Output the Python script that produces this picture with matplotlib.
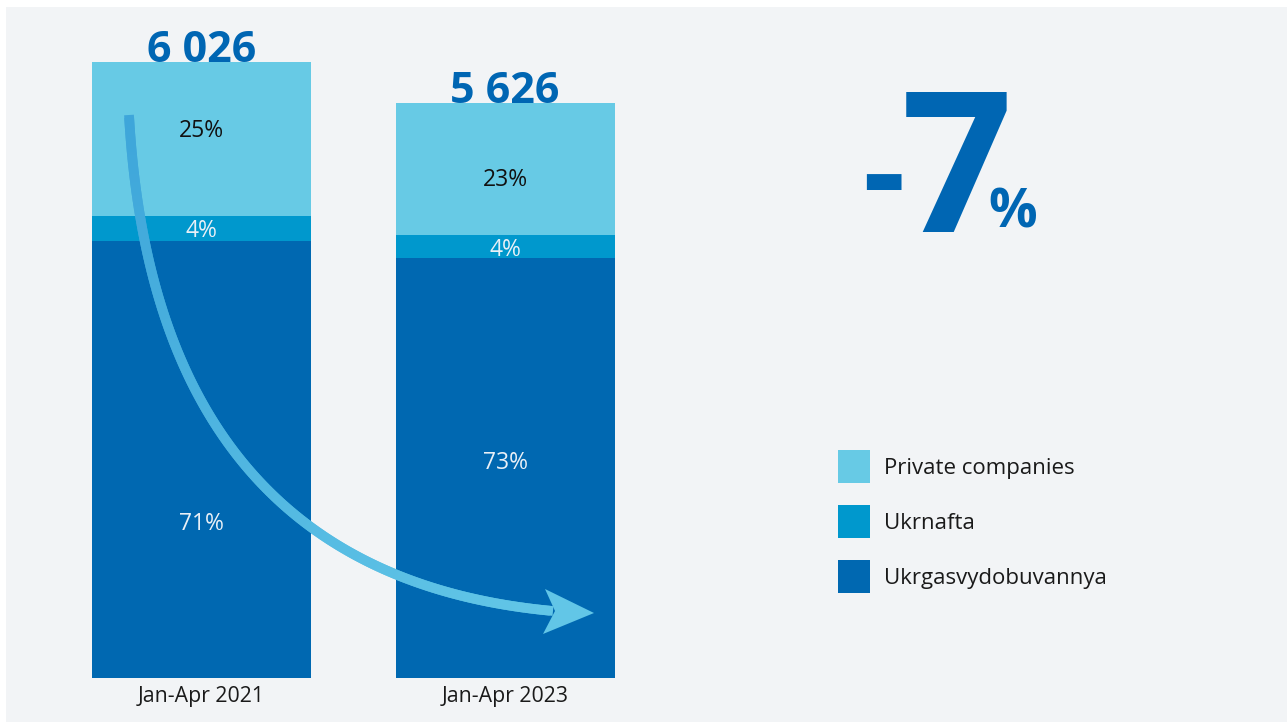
import numpy as np
import matplotlib
matplotlib.use("Agg")
import matplotlib.pyplot as plt
from matplotlib.patches import Rectangle, Patch, Polygon
from matplotlib.collections import LineCollection
import matplotlib.colors as mcolors

plt.rcParams["font.family"] = ["Open Sans", "DejaVu Sans"]

# ---- data: gas production, Jan-Apr, by producer ----
periods = ["Jan-Apr 2021", "Jan-Apr 2023"]
totals = [6026, 5626]
# stacked bottom -> top
companies = ["Ukrgasvydobuvannya", "Ukrnafta", "Private companies"]
share_ugv = [71, 73]
share_ukrnafta = [4, 4]
share_private = [25, 23]
change_pct = -7

shares = [share_ugv, share_ukrnafta, share_private]

# ---- styling ----
colors = ["#0068b1", "#0098cd", "#67cae5"]
label_colors = ["#e9f0f7", "#e9f0f7", "#111111"]
# vertical placement of each share label inside its segment (0 = bottom, 1 = top)
label_frac = [[0.36, 0.52], [0.5, 0.5], [0.57, 0.44]]
NUM_BLUE = "#0066b3"
BG = "#f2f4f6"
TEXT = "#1a1a1a"

W, H = 1287, 722
fig = plt.figure(figsize=(W / 100, H / 100), dpi=100)
fig.patch.set_facecolor("white")
fig.patches.append(Rectangle((6 / W, 0), 1, 1 - 7 / H, transform=fig.transFigure,
                             facecolor=BG, edgecolor="none", zorder=-10))


def fpx(x, y):
    """pixel position (from top-left) -> figure fraction"""
    return x / W, 1 - y / H


bar_bottom_px, bar_top_px = 678, 62
ax = fig.add_axes([0, (H - bar_bottom_px) / H, 1, (bar_bottom_px - 18) / H])
ax.set_facecolor("none")
ax.set_zorder(1)
units_per_px = totals[0] / (bar_bottom_px - bar_top_px)
ax.set_ylim(0, (bar_bottom_px - 18) * units_per_px)
step_px, first_px, width_px = 303.5, 201.5, 219
ax.set_xlim(-first_px / step_px, (W - first_px) / step_px)
bar_w = width_px / step_px

x = np.arange(len(periods))
totals_arr = np.array(totals, dtype=float)
bottom = np.zeros(len(periods))
for k, (name, sh) in enumerate(zip(companies, shares)):
    seg = totals_arr * np.array(sh) / 100.0
    ax.bar(x, seg, bottom=bottom, width=bar_w, color=colors[k], edgecolor="none",
           zorder=2, label=name)
    for i in range(len(periods)):
        ax.text(x[i], bottom[i] + seg[i] * label_frac[k][i], f"{sh[i]}%",
                ha="center", va="center_baseline", fontsize=16.5,
                color=label_colors[k], zorder=5)
    bottom += seg

for i, t in enumerate(totals):
    ax.text(x[i], t, f"{t:,}".replace(",", " "), ha="center", va="baseline",
            fontsize=31, fontweight="bold", color=NUM_BLUE, zorder=5)

ax.set_xticks(x, periods, fontsize=15.3, color=TEXT)
ax.tick_params(axis="x", length=0, pad=5.5)
ax.set_yticks([])
for s in ax.spines.values():
    s.set_visible(False)

# ---- curved arrow showing the decline ----
P = np.array([fpx(129, 115), fpx(145, 400), fpx(270, 585), fpx(553, 611)])
t = np.linspace(0, 1, 300)[:, None]
curve = ((1 - t) ** 3) * P[0] + 3 * ((1 - t) ** 2) * t * P[1] + 3 * (1 - t) * t ** 2 * P[2] + t ** 3 * P[3]
# overlapping pieces so butt caps leave no gaps along the bend
segs = np.stack([curve[:-2], curve[2:]], axis=1)
c0 = np.array(mcolors.to_rgb("#3ea6da"))
c1 = np.array(mcolors.to_rgb("#62c6e7"))
tc = np.linspace(0, 1, len(segs))[:, None]
lc = LineCollection(segs, colors=c0 * (1 - tc) + c1 * tc, linewidths=7,
                    capstyle="butt", transform=fig.transFigure, zorder=6)
lc.set_clip_on(False)
ax.add_collection(lc)
head = Polygon([fpx(594, 613), fpx(545, 589), fpx(555, 611), fpx(543, 634)],
               closed=True, facecolor="#62c6e7", edgecolor="none",
               transform=fig.transFigure, zorder=7)
head.set_clip_on(False)
ax.add_patch(head)

# ---- headline change ----
fig.text(*fpx(862, 218), "-", fontsize=95, fontweight="bold", color=NUM_BLUE,
         ha="left", va="baseline")
fig.text(*fpx(957, 232), str(abs(change_pct)), fontsize=141, fontweight="bold",
         color=NUM_BLUE, ha="center", va="baseline")
fig.text(*fpx(988, 228), "%", fontsize=39, fontweight="bold", color=NUM_BLUE,
         ha="left", va="baseline")

# ---- legend ----
handles = [Patch(facecolor=colors[k], edgecolor="none", label=companies[k]) for k in (2, 1, 0)]
leg = ax.legend(handles=handles, loc="upper left", bbox_to_anchor=fpx(838, 450),
                bbox_transform=fig.transFigure, frameon=False, fontsize=16,
                handlelength=1.44, handleheight=1.91, labelspacing=0.99,
                handletextpad=0.63, borderpad=0, borderaxespad=0)
for txt in leg.get_texts():
    txt.set_color(TEXT)

fig.savefig("out.png", dpi=100)
